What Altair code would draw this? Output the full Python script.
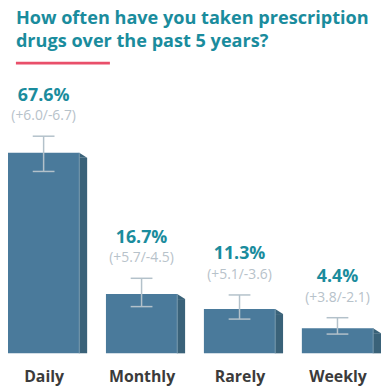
import altair as alt
import pandas as pd

categories = ["Daily", "Monthly", "Rarely", "Weekly"]
values = [67.6, 16.7, 11.3, 4.4]
err_plus = [6.0, 5.7, 5.1, 3.8]
err_minus = [6.7, 4.5, 3.6, 2.1]
title_lines = ["How often have you taken prescription", "drugs over the past 5 years?"]

df = pd.DataFrame({"cat": categories, "value": values, "plus": err_plus, "minus": err_minus})
df["hi"] = df["value"] + df["plus"]
df["lo"] = df["value"] - df["minus"]
df["pct"] = [f"{v:.1f}%" for v in values]
df["err"] = [f"(+{p:.1f}/-{m:.1f})" for p, m in zip(err_plus, err_minus)]

title_df = pd.DataFrame({"t": title_lines})

TEAL = "#1a8c9d"
FRONT = "#4a7a9b"
SIDE = "#3a6279"
ERR = "#b3c1ca"
FONT = "Open Sans"

x = alt.X("cat:N", sort=categories,
          scale=alt.Scale(type="point", domain=categories, range=[36, 333], padding=0),
          axis=alt.Axis(title=None, domain=False, ticks=False, labelAngle=0,
                        labelFont=FONT, labelFontSize=16, labelFontWeight="bold",
                        labelColor="#3b3b3b", labelPadding=15))
ysc = alt.Scale(domain=[0, 100], range=[334, 53.5])
y = alt.Y("value:Q", scale=ysc, axis=None)
y_hi = alt.Y("hi:Q", scale=ysc, axis=None)
y_lo = alt.Y("lo:Q", scale=ysc, axis=None)

base = alt.Chart(df)

front = base.mark_bar(width=72, color=FRONT, y2Offset=13).encode(x=x, y=y, y2=alt.datum(0))
side = base.mark_bar(width=8, color=SIDE, xOffset=40, yOffset=5, y2Offset=13).encode(
    x=x, y=y, y2=alt.datum(0))
tri = base.mark_point(shape="M-1,-1L1,0.25L-1,0.25Z", size=64, filled=True, color=SIDE,
                      opacity=1, strokeWidth=0, xOffset=40, yOffset=4).encode(x=x, y=y)
divider = base.mark_rule(color="#7397ae", strokeWidth=1, xOffset=36, y2Offset=13).encode(
    x=x, y=y, y2=alt.datum(0))
err_rule = base.mark_rule(color=ERR, strokeWidth=1.5).encode(x=x, y=y_lo, y2="hi:Q")
cap_hi = base.mark_tick(color=ERR, size=22, thickness=1.5, opacity=1).encode(x=x, y=y_hi)
cap_lo = base.mark_tick(color=ERR, size=22, thickness=1.5, opacity=1).encode(x=x, y=y_lo)
pct_text = base.mark_text(font=FONT, fontSize=18, fontWeight="bold", color=TEAL,
                          baseline="middle", dy=-41).encode(x=x, y=y_hi, text="pct:N")
err_text = base.mark_text(font=FONT, fontSize=14, color="#b7c2ca",
                          baseline="middle", dy=-20).encode(x=x, y=y_hi, text="err:N")

title1 = alt.Chart(title_df.iloc[[0]]).mark_text(
    font=FONT, fontSize=18.3, fontWeight="bold", color=TEAL,
    align="left", baseline="alphabetic").encode(
    text="t:N", x=alt.value(8), y=alt.value(14.5))
title2 = alt.Chart(title_df.iloc[[1]]).mark_text(
    font=FONT, fontSize=18.3, fontWeight="bold", color=TEAL,
    align="left", baseline="alphabetic").encode(
    text="t:N", x=alt.value(8), y=alt.value(37.6))
red = alt.Chart(title_df.iloc[[0]]).mark_rule(color="#e94f6a", strokeWidth=3).encode(
    x=alt.value(8), x2=alt.value(103), y=alt.value(53.7))

chart = alt.layer(front, side, tri, divider, err_rule, cap_hi, cap_lo, pct_text, err_text,
                  title1, title2, red).properties(
    width=378, height=347,
    padding={"left": 0, "top": 0, "right": 0, "bottom": 31},
    autosize=alt.AutoSizeParams(type="none"),
).configure_view(stroke=None)

chart.save("out.html", embed_options={"renderer": "svg", "actions": False})
